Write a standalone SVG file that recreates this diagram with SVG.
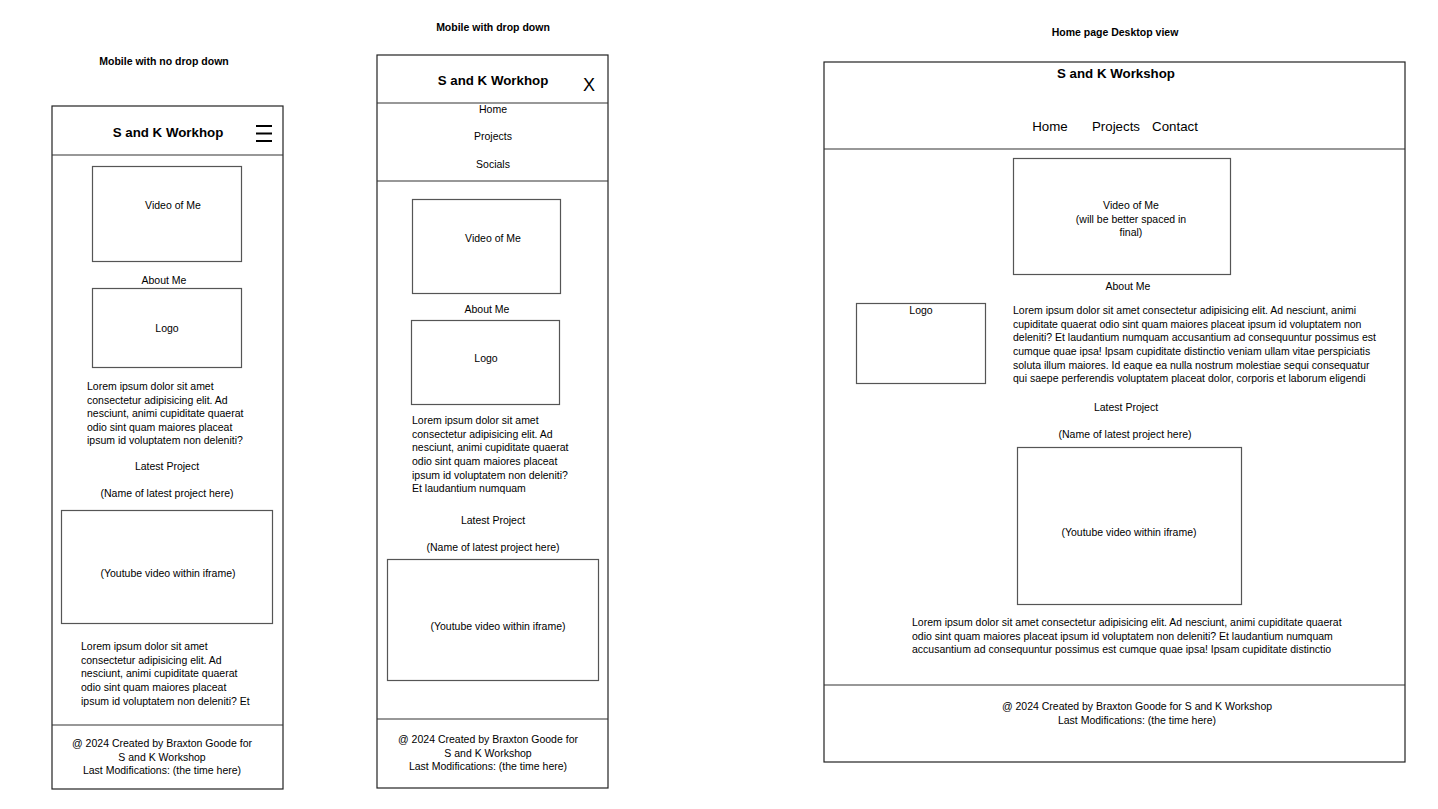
<svg xmlns="http://www.w3.org/2000/svg" width="1438" height="809" viewBox="0 0 1438 809">
<style>
text{font-family:"Liberation Sans",Arial,sans-serif;fill:#000;font-size:10.5px}
.c{text-anchor:middle}
.b{font-weight:bold}
.h{font-size:13.3px;font-weight:bold;text-anchor:middle}
.nav{font-size:13.3px;text-anchor:middle}
.frame{fill:#fff;stroke:#222;stroke-width:1.2}
.line{stroke:#333;stroke-width:1.2}
.box{fill:#fff;stroke:#555;stroke-width:1.2}
.burger{stroke:#000;stroke-width:2}
</style>
<rect width="1438" height="809" fill="#fff"/>

<!-- Mobile with no drop down -->
<g id="mobile-no-dropdown">
<text class="c b" x="164" y="65">Mobile with no drop down</text>
<rect class="frame" x="52" y="106" width="231" height="683"/>
<line class="line" x1="52" y1="155" x2="283" y2="155"/>
<text class="h" x="168" y="137">S and K Workhop</text>
<line class="burger" x1="256" y1="126" x2="272" y2="126"/>
<line class="burger" x1="256" y1="133.5" x2="272" y2="133.5"/>
<line class="burger" x1="256" y1="141" x2="272" y2="141"/>
<rect class="box" x="92.5" y="166.5" width="149" height="95"/>
<text class="c" x="173" y="209">Video of Me</text>
<text class="c" x="164" y="284">About Me</text>
<rect class="box" x="92.5" y="288.5" width="149" height="79"/>
<text class="c" x="167" y="332">Logo</text>
<text x="87" y="390">Lorem ipsum dolor sit amet</text>
<text x="87" y="404">consectetur adipisicing elit. Ad</text>
<text x="87" y="417">nesciunt, animi cupiditate quaerat</text>
<text x="87" y="431">odio sint quam maiores placeat</text>
<text x="87" y="444">ipsum id voluptatem non deleniti?</text>
<text class="c" x="167" y="470">Latest Project</text>
<text class="c" x="167" y="497">(Name of latest project here)</text>
<rect class="box" x="61.5" y="510.5" width="211" height="113"/>
<text class="c" x="168" y="577">(Youtube video within iframe)</text>
<text x="81" y="650">Lorem ipsum dolor sit amet</text>
<text x="81" y="664">consectetur adipisicing elit. Ad</text>
<text x="81" y="677">nesciunt, animi cupiditate quaerat</text>
<text x="81" y="691">odio sint quam maiores placeat</text>
<text x="81" y="705">ipsum id voluptatem non deleniti? Et</text>
<line class="line" x1="52" y1="725" x2="283" y2="725"/>
<text class="c" x="162" y="747">@ 2024 Created by Braxton Goode for</text>
<text class="c" x="162" y="761">S and K Workshop</text>
<text class="c" x="162" y="774">Last Modifications: (the time here)</text>
</g>

<!-- Mobile with drop down -->
<g id="mobile-dropdown">
<text class="c b" x="493" y="31">Mobile with drop down</text>
<rect class="frame" x="377" y="55" width="231" height="733"/>
<line class="line" x1="377" y1="103" x2="608" y2="103"/>
<text class="h" x="493" y="85">S and K Workhop</text>
<text x="589" y="91" style="font-size:18px;text-anchor:middle">X</text>
<text class="c" x="493" y="113">Home</text>
<text class="c" x="493" y="140">Projects</text>
<text class="c" x="493" y="168">Socials</text>
<line class="line" x1="377" y1="181" x2="608" y2="181"/>
<rect class="box" x="412.5" y="199.5" width="148" height="94"/>
<text class="c" x="493" y="242">Video of Me</text>
<text class="c" x="487" y="313">About Me</text>
<rect class="box" x="411.5" y="320.5" width="148" height="84"/>
<text class="c" x="486" y="362">Logo</text>
<text x="412" y="424">Lorem ipsum dolor sit amet</text>
<text x="412" y="438">consectetur adipisicing elit. Ad</text>
<text x="412" y="451">nesciunt, animi cupiditate quaerat</text>
<text x="412" y="465">odio sint quam maiores placeat</text>
<text x="412" y="479">ipsum id voluptatem non deleniti?</text>
<text x="412" y="492">Et laudantium numquam</text>
<text class="c" x="493" y="524">Latest Project</text>
<text class="c" x="493" y="551">(Name of latest project here)</text>
<rect class="box" x="387.5" y="559.5" width="211" height="121"/>
<text class="c" x="498" y="630">(Youtube video within iframe)</text>
<line class="line" x1="377" y1="719" x2="608" y2="719"/>
<text class="c" x="488" y="743">@ 2024 Created by Braxton Goode for</text>
<text class="c" x="488" y="757">S and K Workshop</text>
<text class="c" x="488" y="770">Last Modifications: (the time here)</text>
</g>

<!-- Home page Desktop view -->
<g id="desktop">
<text class="c b" x="1115" y="36">Home page Desktop view</text>
<rect class="frame" x="824" y="62" width="581" height="700"/>
<line class="line" x1="824" y1="149" x2="1405" y2="149"/>
<text class="h" x="1116" y="78">S and K Workshop</text>
<text class="nav" x="1050" y="131">Home</text>
<text class="nav" x="1116" y="131">Projects</text>
<text class="nav" x="1175" y="131">Contact</text>
<rect class="box" x="1013.5" y="158.5" width="217" height="116"/>
<text class="c" x="1131" y="209">Video of Me</text>
<text class="c" x="1131" y="223">(will be better spaced in</text>
<text class="c" x="1131" y="236">final)</text>
<text class="c" x="1128" y="290">About Me</text>
<rect class="box" x="856.5" y="303.5" width="129" height="80"/>
<text class="c" x="921" y="314">Logo</text>
<text x="1013" y="314">Lorem ipsum dolor sit amet consectetur adipisicing elit. Ad nesciunt, animi</text>
<text x="1013" y="328">cupiditate quaerat odio sint quam maiores placeat ipsum id voluptatem non</text>
<text x="1013" y="341">deleniti? Et laudantium numquam accusantium ad consequuntur possimus est</text>
<text x="1013" y="355">cumque quae ipsa! Ipsam cupiditate distinctio veniam ullam vitae perspiciatis</text>
<text x="1013" y="369">soluta illum maiores. Id eaque ea nulla nostrum molestiae sequi consequatur</text>
<text x="1013" y="382">qui saepe perferendis voluptatem placeat dolor, corporis et laborum eligendi</text>
<text class="c" x="1126" y="411">Latest Project</text>
<text class="c" x="1125" y="438">(Name of latest project here)</text>
<rect class="box" x="1017.5" y="447.5" width="224" height="157"/>
<text class="c" x="1129" y="536">(Youtube video within iframe)</text>
<text x="912" y="626">Lorem ipsum dolor sit amet consectetur adipisicing elit. Ad nesciunt, animi cupiditate quaerat</text>
<text x="912" y="640">odio sint quam maiores placeat ipsum id voluptatem non deleniti? Et laudantium numquam</text>
<text x="912" y="653">accusantium ad consequuntur possimus est cumque quae ipsa! Ipsam cupiditate distinctio</text>
<line class="line" x1="824" y1="685" x2="1405" y2="685"/>
<text class="c" x="1137" y="710">@ 2024 Created by Braxton Goode for S and K Workshop</text>
<text class="c" x="1137" y="724">Last Modifications: (the time here)</text>
</g>
<g id="connectors"/>
</svg>
